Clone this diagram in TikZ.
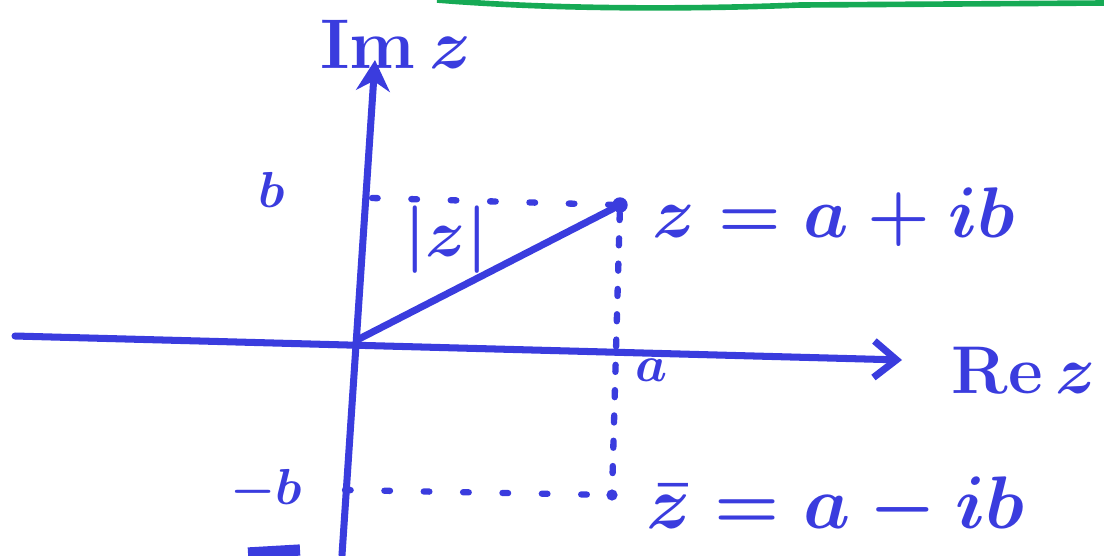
\RequirePackage{fix-cm}
\documentclass[tikz,border=0pt]{standalone}
\usepackage{amsmath}
\usepackage{amssymb}
\usepackage{xcolor}
\usetikzlibrary{arrows.meta, positioning}
\definecolor{marker}{RGB}{58,60,222}
\definecolor{rim}{RGB}{22,170,85}

\begin{document}
\begin{tikzpicture}[
    x=0.025cm, y=-0.025cm,
    axis/.style={draw=marker, line width=5pt, line cap=round},
    modline/.style={draw=marker, line width=5pt, line cap=round},
    guide/.style={draw=marker, line width=4.5pt, line cap=round, dash pattern=on 4pt off 24pt},
    vguide/.style={draw=marker, line width=4.5pt, line cap=round, dash pattern=on 5pt off 13pt},
    dot/.style={circle, fill=marker, inner sep=0pt, minimum size=11pt},
    eqn/.style={text=marker, font=\fontsize{51}{56}\selectfont\boldmath, inner sep=0pt},
    tag/.style={text=marker, font=\fontsize{36}{40}\selectfont\boldmath, inner sep=0pt}
]
\useasboundingbox (0,0) rectangle (1104,555);

% Nodes
\coordinate (O) at (357,340);
\coordinate (xstart) at (15,336);
\coordinate (xend) at (902,360);
\coordinate (ystart) at (342,555);
\coordinate (yend) at (375,60);
\coordinate (btick) at (372,198);
\coordinate (mbtick) at (345,490);
\node [dot] (z) at (620,205) {};
\node [dot, minimum size=8pt] (zbar) at (612,495) {};

\node [eqn, anchor=west] (zlab) at (652,217) {$z = a + ib$};
\node [eqn, anchor=west, font=\fontsize{53}{58}\selectfont\boldmath] (zbarlab) at (646,508) {$\bar{z} = a - ib$};
\node [eqn, font=\fontsize{48}{52}\selectfont\boldmath] (relab) at (1024,370) {$\mathrm{Re}\,z$};
\node [eqn, font=\fontsize{50}{54}\selectfont\boldmath] (imlab) at (396,44) {$\mathrm{Im}\,z$};
\node [tag] (blab) at (272,190) {$b$};
\node [tag] (mblab) at (266,490) {$-b$};
\node [tag] (alab) at (652,370) {$a$};
\node [eqn, font=\fontsize{48}{52}\selectfont\boldmath] (modlab) at (446,240) {$|z|$};

% Paths
\draw [axis, -{Straight Barb[length=16pt, width=26pt, line width=5pt]}] (xstart) -- (xend);
\draw [axis, -{Stealth[length=22pt, width=24pt]}] (ystart) -- (yend);
\draw [modline] (O) -- (z);
\draw [guide] (btick) -- (z);
\draw [vguide] (z) -- (zbar);
\draw [guide] (mbtick) -- (zbar);

% edge of the board
\draw [rim, line width=4pt] (437,0) .. controls (560,10) and (700,9) .. (800,5) -- (1104,3);
\draw [marker, line width=8pt] (248,553) -- (300,550);

\end{tikzpicture}
\end{document}
